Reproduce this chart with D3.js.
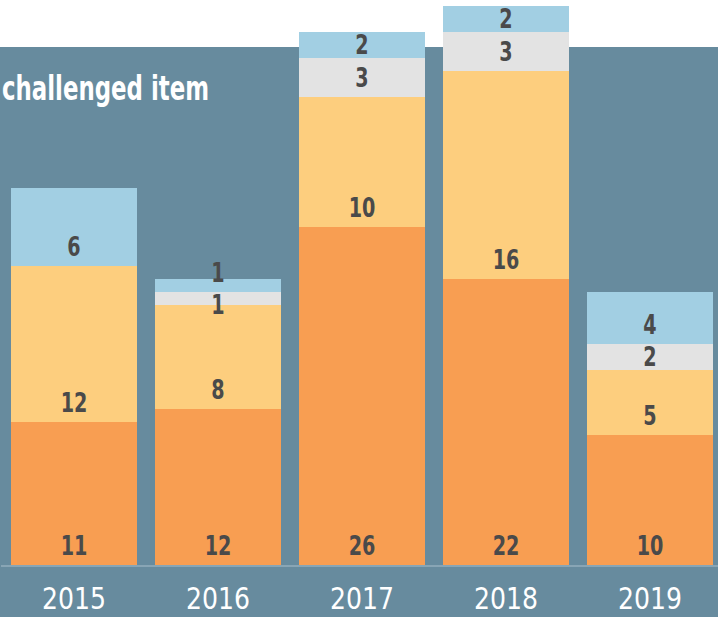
<!DOCTYPE html>
<html><head><meta charset="utf-8">
<script src="https://cdn.jsdelivr.net/npm/d3@7"></script>
<style>
html,body{margin:0;padding:0;background:#fff;}
svg{display:block;}
</style></head>
<body>
<script>
const years = ["2015","2016","2017","2018","2019"];
const seriesNames = ["s1","s2","s3","s4"];
const s1 = [11,12,26,22,10];
const s2 = [12,8,10,16,5];
const s3 = [0,1,3,3,2];
const s4 = [6,1,2,2,4];
const seriesColors = ["#f89e52","#fdce7e","#e3e3e3","#a2cfe3"];
const titleText = "challenged item";

const W = 718, H = 617;
const svg = d3.select("body").append("svg").attr("width", W).attr("height", H);

const FONT = "'DejaVu Sans Condensed','Liberation Sans',sans-serif";

svg.append("rect").attr("x",0).attr("y",47).attr("width",W).attr("height",H-47).attr("fill","#678b9e");

const rows = years.map((y,i)=>({year:y, s1:s1[i], s2:s2[i], s3:s3[i], s4:s4[i]}));
const stack = d3.stack().keys(seriesNames)(rows);

const x = d3.scaleBand().domain(years).range([2, 722]).paddingInner(0.125).paddingOuter(0.0625);
const y = d3.scaleLinear().domain([0, 41]).range([565, 32]);

const g = svg.append("g");
stack.forEach((layer, li) => {
  g.selectAll(null).data(layer).enter().append("rect")
    .attr("x", d => x(d.data.year))
    .attr("width", x.bandwidth())
    .attr("y", d => y(d[1]))
    .attr("height", d => y(d[0]) - y(d[1]))
    .attr("fill", seriesColors[li]);
});

// axis
const axis = svg.append("g").attr("transform","translate(0,566)")
  .call(d3.axisBottom(x).tickSize(0).tickPadding(0));
axis.select(".domain").attr("stroke","#88a5b5").attr("stroke-width",2).attr("d","M1,0H718");
axis.selectAll("text").attr("fill","#fff").attr("font-family",FONT).attr("font-size",31)
  .attr("y",43).attr("dy",0)
  .attr("textLength",64).attr("lengthAdjust","spacingAndGlyphs");

// value labels
years.forEach((yr, i) => {
  let prev = null;
  for (let li = stack.length - 1; li >= 0; li--) {
    const d = stack[li][i];
    const v = d[1] - d[0];
    if (!v) continue;
    const bottom = y(d[0]), top = y(d[1]), h = bottom - top;
    let base = (h >= 20 && h < 30) ? (bottom - h/2 + 9) : (bottom - 10);
    if (prev !== null && base < prev + 32) base = prev + 32;
    prev = base;
    svg.append("text")
      .attr("transform", `translate(${x(yr) + x.bandwidth()/2},${base}) scale(0.82,1)`)
      .attr("text-anchor","middle")
      .attr("font-family",FONT).attr("font-weight","bold").attr("font-size",26)
      .attr("fill","#4a4a4a")
      .text(v);
  }
});

svg.append("text").attr("x",2).attr("y",100)
  .attr("font-family",FONT).attr("font-weight","bold").attr("font-size",34)
  .attr("textLength",207).attr("lengthAdjust","spacingAndGlyphs")
  .attr("fill","#fff").text(titleText);
</script>
</body></html>
